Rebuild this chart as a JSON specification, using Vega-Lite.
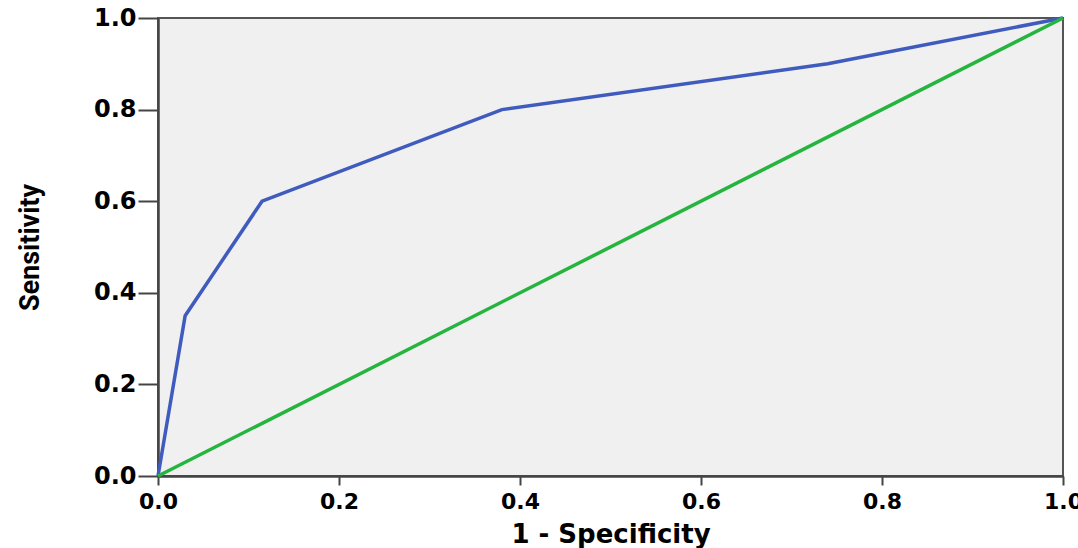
{
  "$schema": "https://vega.github.io/schema/vega-lite/v6.json",
  "autosize": "none",
  "padding": {"left": 158, "top": 18, "right": 15, "bottom": 72},
  "width": 905,
  "height": 458,
  "background": "white",
  "config": {
    "view": {"fill": "#f0f0f0", "stroke": "#555555", "strokeWidth": 2},
    "axis": {"grid": false, "domainColor": "#444444", "domainWidth": 2.5, "tickColor": "#444444", "tickWidth": 2, "labelColor": "black", "titleColor": "black"}
  },
  "data": {
    "values": [
      {"series": "roc", "fpr": 0.0, "tpr": 0.0},
      {"series": "roc", "fpr": 0.03, "tpr": 0.35},
      {"series": "roc", "fpr": 0.115, "tpr": 0.6},
      {"series": "roc", "fpr": 0.38, "tpr": 0.8},
      {"series": "roc", "fpr": 0.74, "tpr": 0.9},
      {"series": "roc", "fpr": 1.0, "tpr": 1.0},
      {"series": "ref", "fpr": 0.0, "tpr": 0.0},
      {"series": "ref", "fpr": 1.0, "tpr": 1.0}
    ]
  },
  "mark": {"type": "line", "strokeWidth": 3.5, "clip": false},
  "encoding": {
    "x": {
      "field": "fpr", "type": "quantitative",
      "scale": {"domain": [0, 1], "nice": false, "zero": false},
      "axis": {
        "title": "1 - Specificity", "values": [0, 0.2, 0.4, 0.6, 0.8, 1.0], "format": ".1f",
        "labelFont": "DejaVu Sans", "labelFontWeight": "bold", "labelFontSize": 22, "labelPadding": 6,
        "tickSize": 9, "labelFlush": false,
        "titleFont": "DejaVu Sans", "titleFontWeight": "bold", "titleFontSize": 26,
        "titleBaseline": "alphabetic", "titleY": 66
      }
    },
    "y": {
      "field": "tpr", "type": "quantitative",
      "scale": {"domain": [0, 1], "nice": false, "zero": false},
      "axis": {
        "title": "Sensitivity", "values": [0, 0.2, 0.4, 0.6, 0.8, 1.0], "format": ".1f",
        "labelFont": "DejaVu Sans", "labelFontWeight": "bold", "labelFontSize": 24, "labelPadding": 2,
        "tickSize": 20, "labelFlush": false,
        "titleFont": "Roboto", "titleFontWeight": "bold", "titleFontSize": 27,
        "titleAngle": -90, "titleBaseline": "middle", "titleAlign": "center",
        "titleX": -128, "titleY": 229
      }
    },
    "color": {
      "field": "series", "type": "nominal",
      "scale": {"domain": ["roc", "ref"], "range": ["#3f5bbd", "#25b53e"]},
      "legend": null
    },
    "order": {"field": "fpr", "type": "quantitative"}
  }
}
